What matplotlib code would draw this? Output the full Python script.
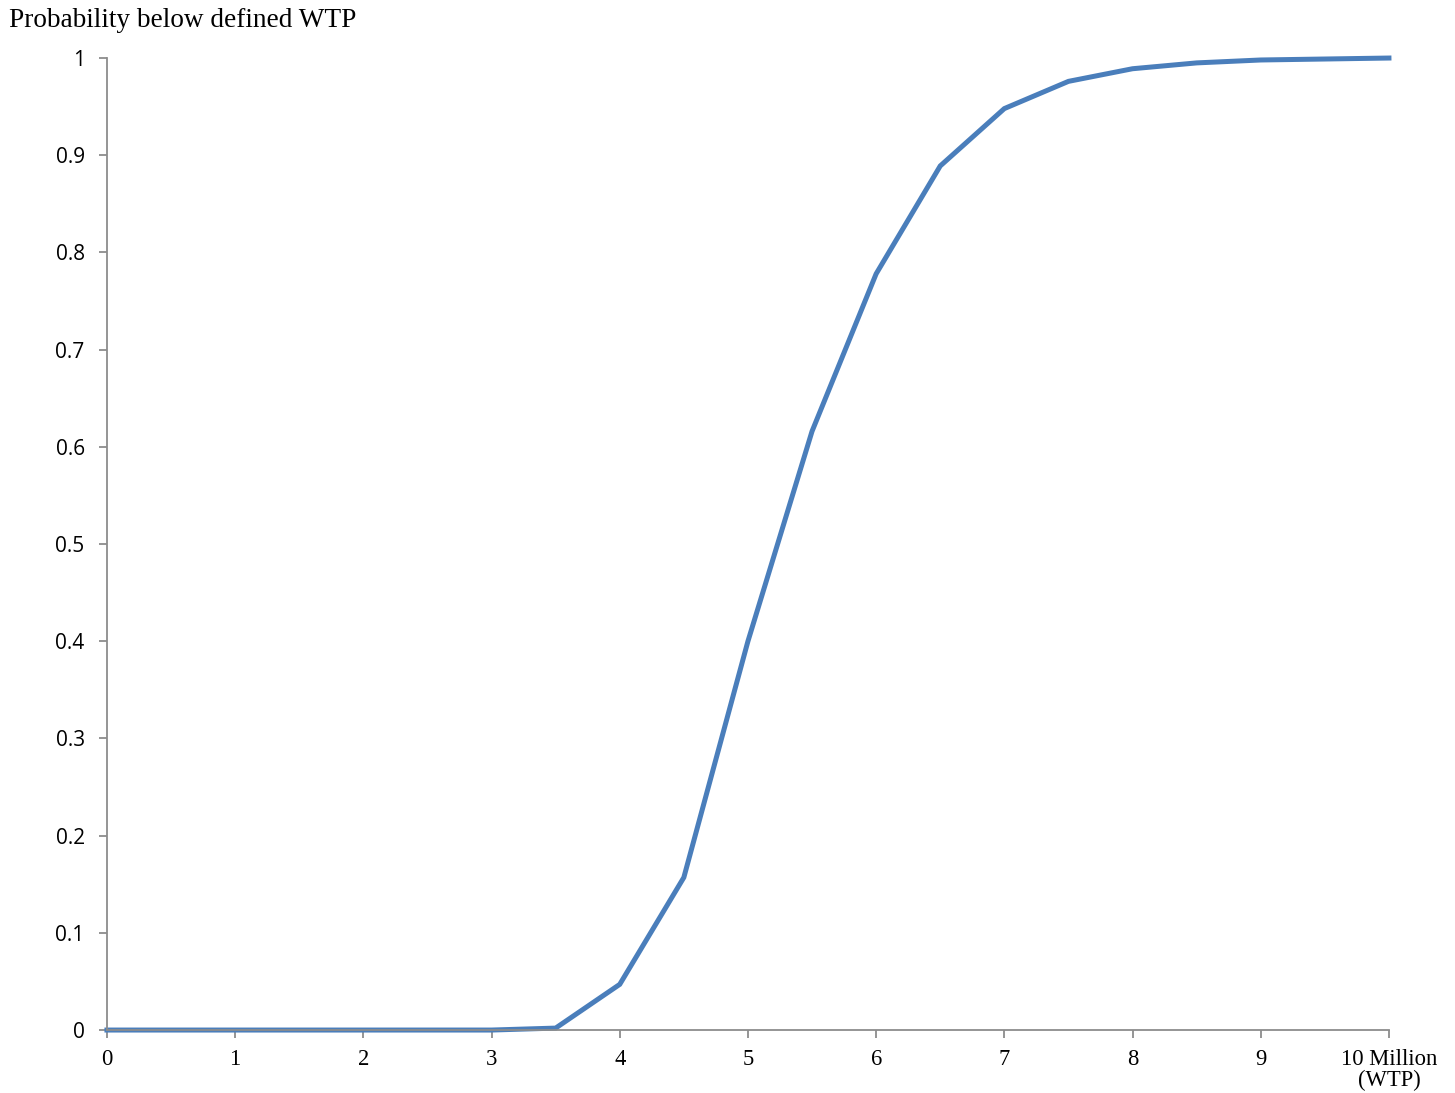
import matplotlib.pyplot as plt
import numpy as np

# WTP in million, cumulative probability
wtp = [0, 0.5, 1, 1.5, 2, 2.5, 3, 3.5, 4, 4.5, 5, 5.5, 6, 6.5, 7, 7.5, 8, 8.5, 9, 9.5, 10]
prob = [0, 0, 0, 0, 0, 0, 0, 0.002, 0.047, 0.157, 0.400, 0.616, 0.778, 0.889, 0.948, 0.976,
        0.989, 0.995, 0.998, 0.999, 1.0]

x_ticks = list(range(11))
x_labels = ['0', '1', '2', '3', '4', '5', '6', '7', '8', '9', '10 Million\n(WTP)']
y_ticks = [0, 0.1, 0.2, 0.3, 0.4, 0.5, 0.6, 0.7, 0.8, 0.9, 1]
y_labels = ['0', '0.1', '0.2', '0.3', '0.4', '0.5', '0.6', '0.7', '0.8', '0.9', '1']

fig = plt.figure(figsize=(14.55, 10.93), dpi=100)
ax = fig.add_axes([0.0735, 0.0576, 0.8811, 0.8893])

ax.plot(wtp, prob, color='#4a7ebb', linewidth=3.6, solid_joinstyle='miter', clip_on=False)

ax.set_xlim(0, 10)
ax.set_ylim(0, 1)

ax.set_xticks(x_ticks)
ax.set_xticklabels(x_labels, fontfamily='Liberation Serif', fontsize=16.3, linespacing=0.95)
ax.set_yticks(y_ticks)
ax.set_yticklabels(y_labels, fontfamily='Open Sans', fontsize=15)

for side in ['top', 'right']:
    ax.spines[side].set_visible(False)
for side in ['left', 'bottom']:
    ax.spines[side].set_color('#8c8c8c')
    ax.spines[side].set_linewidth(1.3)

ax.tick_params(axis='both', color='#8c8c8c', width=1.3, length=6)
ax.tick_params(axis='x', pad=8)
ax.tick_params(axis='y', pad=10)

fig.text(0.006, 0.981, 'Probability below defined WTP', fontfamily='Liberation Serif',
         fontsize=19.6, ha='left', va='center')

plt.savefig('out.png', dpi=100, facecolor='white')
